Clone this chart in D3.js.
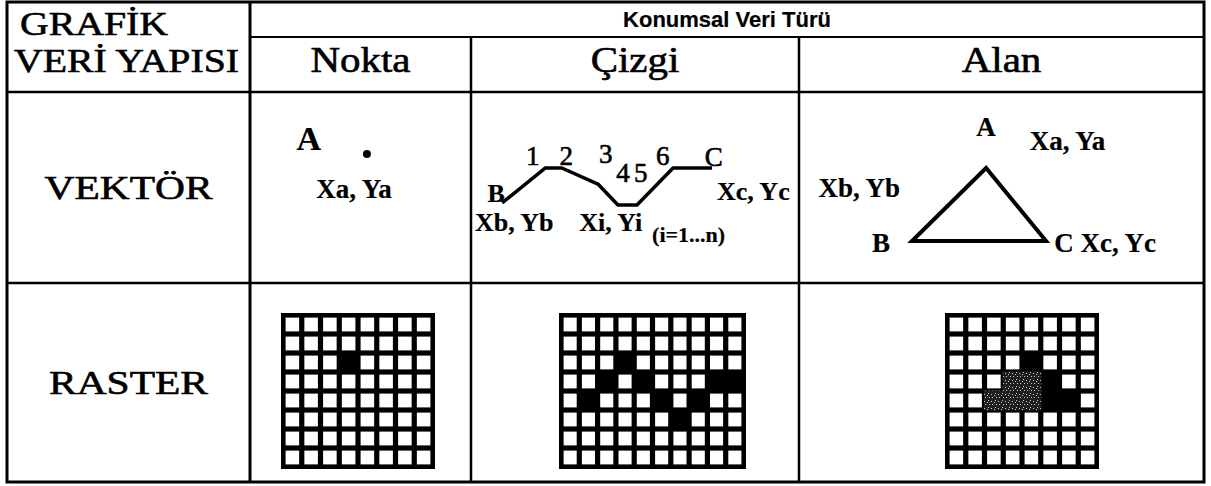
<!DOCTYPE html>
<html><head><meta charset="utf-8">
<script src="https://cdn.jsdelivr.net/npm/d3@7"></script>
<style>body{margin:0;background:#fff}</style>
</head><body><svg id="c" width="1211" height="486"></svg>
<script>
// ---------- data ----------
const cornerLines = ["GRAFİK", "VERİ YAPISI"];
const headerTitle = "Konumsal Veri Türü";
const dataTypes = ["Nokta", "Çizgi", "Alan"];
const structures = ["VEKTÖR", "RASTER"];

// raster grids: [cols, rows] and filled cells [col, row, tone]
const gridNoktaSize = [8, 8];
const gridNoktaCells = [[3, 2, "k"]];
const gridCizgiSize = [10, 8];
const gridCizgiCells = [[1,4,"k"],[2,3,"k"],[3,2,"k"],[4,3,"k"],[5,4,"k"],[6,5,"k"],[7,4,"k"],[8,3,"k"],[9,3,"k"]];
const gridAlanSize = [8, 8];
const gridAlanCells = [[4,2,"k"],[3,3,"g"],[4,3,"g"],[5,3,"k"],[2,4,"g"],[3,4,"g"],[4,4,"g"],[5,4,"k"],[6,4,"k"]];

// vector geometry in cell units (0-100)
const pointXY = [52.9, 32.5];
const lineX = [9.5, 22.6, 27.7, 38.7, 44.8, 50.6, 61.6, 73.5];
const lineY = [58.1, 39.8, 39.8, 48.2, 59.2, 59.2, 39.8, 39.8];
const polyX = [46.2, 27.9, 61.0];
const polyY = [39.8, 78.0, 78.0];

// vector labels [text, x, y, anchor, size, weight]
const noktaLabels = [["A", 21.0, 30.4, "start", 34, "bold"], ["Xa, Ya", 30.0, 55.5, "start", 27, "bold"]];
const cizgiLabels = [
  ["B", 5.0, 57.6, "start", 26, "bold"], ["1", 16.8, 38.2, "start", 27, "normal"], ["2", 27.0, 38.2, "start", 27, "normal"],
  ["3", 39.0, 37.2, "start", 27, "normal"], ["4", 44.3, 47.0, "start", 27, "normal"], ["5", 49.7, 47.0, "start", 27, "normal"],
  ["6", 56.4, 38.2, "start", 27, "normal"], ["C", 71.3, 38.7, "start", 27, "normal"], ["Xc, Yc", 75.0, 56.8, "start", 26, "bold"],
  ["Xb, Yb", 1.2, 73.0, "start", 26, "bold"], ["Xi, Yi", 33.0, 73.0, "start", 26, "bold"], ["(i=1...n)", 55.2, 78.5, "start", 22, "bold"]
];
const alanLabels = [
  ["A", 46.2, 23.0, "middle", 27, "bold"], ["Xa, Ya", 57.0, 30.4, "start", 27, "bold"], ["Xb, Yb", 4.8, 55.0, "start", 27, "bold"],
  ["B", 18.0, 84.0, "start", 27, "bold"], ["C  Xc, Yc", 63.0, 84.0, "start", 27, "bold"]
];

// ---------- layout ----------
const svg = d3.select("#c");
const L = 7, R = 1204, T = 2, B = 482;
const colEdges = [250, 471, 799, R];
const rowEdges = [37, 92, 283, B];
const serif = "'Liberation Serif','Times New Roman',serif";
const sans = "'Liberation Sans',Arial,sans-serif";

// speckle pattern
const defs = svg.append("defs");
const pat = defs.append("pattern").attr("id","speck").attr("width",7).attr("height",7).attr("patternUnits","userSpaceOnUse");
pat.append("rect").attr("width",7).attr("height",7).attr("fill","#1e1e1e");
[[1,1],[4,2],[2,5],[5,5],[0,3]].forEach(p => pat.append("rect").attr("x",p[0]).attr("y",p[1]).attr("width",1).attr("height",1).attr("fill","#ccc"));

// table lines
const g = svg.append("g").attr("stroke","#000").attr("fill","none");
g.append("rect").attr("x",L).attr("y",T).attr("width",R-L).attr("height",B-T).attr("stroke-width",3);
g.append("line").attr("x1",colEdges[0]).attr("x2",colEdges[0]).attr("y1",T).attr("y2",B).attr("stroke-width",3);
[colEdges[1], colEdges[2]].forEach(x => g.append("line").attr("x1",x).attr("x2",x).attr("y1",rowEdges[0]).attr("y2",B).attr("stroke-width",2.5));
g.append("line").attr("x1",colEdges[0]).attr("x2",R).attr("y1",rowEdges[0]).attr("y2",rowEdges[0]).attr("stroke-width",2);
[rowEdges[1], rowEdges[2]].forEach(y => g.append("line").attr("x1",L).attr("x2",R).attr("y1",y).attr("y2",y).attr("stroke-width",2.5));

function stext(txt, x, y, size, opts = {}) {
  const sx = opts.sx || 1;
  return svg.append("text")
    .attr("transform", `translate(${x},${y}) scale(${sx},1)`)
    .attr("text-anchor", opts.anchor || "start")
    .attr("font-family", opts.family || serif)
    .attr("font-size", size)
    .attr("font-weight", opts.weight || "normal")
    .attr("fill", "#000")
    .attr("stroke", "#000")
    .attr("stroke-width", opts.sw == null ? 0.6 : opts.sw)
    .text(txt);
}

// corner
stext(cornerLines[0], 20, 35, 34, {sx: 1.17});
stext(cornerLines[1], 14, 72, 34, {sx: 1.17});
// header
stext(headerTitle, (colEdges[0] + R) / 2, 27, 22, {anchor: "middle", family: sans, weight: "bold", sw: 0.2});
dataTypes.forEach((d, i) => {
  const cx = (colEdges[i] + colEdges[i + 1]) / 2;
  stext(d, cx, 72, 35, {anchor: "middle", sx: 1.17});
});
// row labels
structures.forEach((d, i) => {
  const cy = (rowEdges[i + 1] + rowEdges[i + 2]) / 2;
  stext(d, (L + colEdges[0]) / 2, cy + 11, 34, {anchor: "middle", sx: 1.22});
});

// ---------- vector cells ----------
function cellScales(ci) {
  return [d3.scaleLinear().domain([0, 100]).range([colEdges[ci], colEdges[ci + 1]]),
          d3.scaleLinear().domain([0, 100]).range([rowEdges[1], rowEdges[2]])];
}
function drawLabels(labels, ci) {
  const [sx, sy] = cellScales(ci);
  labels.forEach(l => stext(l[0], sx(l[1]), sy(l[2]), l[4], {anchor: l[3], weight: l[5], sw: l[5] === "bold" ? 0.2 : 0.6}));
}
{
  const [sx, sy] = cellScales(0);
  svg.append("circle").attr("cx", sx(pointXY[0])).attr("cy", sy(pointXY[1])).attr("r", 4).attr("fill", "#000");
  drawLabels(noktaLabels, 0);
}
{
  const [sx, sy] = cellScales(1);
  const line = d3.line().x(d => sx(d[0])).y(d => sy(d[1]));
  svg.append("path").attr("d", line(d3.zip(lineX, lineY))).attr("fill","none").attr("stroke","#000").attr("stroke-width",3.5).attr("stroke-linejoin","round");
  drawLabels(cizgiLabels, 1);
}
{
  const [sx, sy] = cellScales(2);
  const line = d3.line().x(d => sx(d[0])).y(d => sy(d[1])).curve(d3.curveLinearClosed);
  svg.append("path").attr("d", line(d3.zip(polyX, polyY))).attr("fill","none").attr("stroke","#000").attr("stroke-width",4).attr("stroke-linejoin","miter");
  drawLabels(alanLabels, 2);
}

// ---------- raster cells ----------
function drawGrid(box, size, cells) {
  const [x0, y0, x1, y1] = box;
  const xs = d3.scaleLinear().domain([0, size[0]]).range([x0, x1]);
  const ys = d3.scaleLinear().domain([0, size[1]]).range([y0, y1]);
  const gg = svg.append("g");
  gg.append("rect").attr("x", x0 - 2).attr("y", y0 - 2).attr("width", x1 - x0 + 4).attr("height", y1 - y0 + 4).attr("fill", "#000");
  const filled = new Map(cells.map(c => [c[0] + "," + c[1], c[2]]));
  const all = d3.cross(d3.range(size[0]), d3.range(size[1]));
  const inset = 2.6;
  all.forEach(([i, j]) => {
    const t = filled.get(i + "," + j);
    if (t === "k") return;
    if (t === "g") {
      gg.append("rect").attr("x", xs(i) - 0.5).attr("y", ys(j) - 0.5).attr("width", xs(i + 1) - xs(i) + 1).attr("height", ys(j + 1) - ys(j) + 1).attr("fill", "url(#speck)");
      return;
    }
    gg.append("rect").attr("x", xs(i) + inset).attr("y", ys(j) + inset)
      .attr("width", xs(i + 1) - xs(i) - 2 * inset).attr("height", ys(j + 1) - ys(j) - 2 * inset).attr("fill", "#fff");
  });
}
drawGrid([283, 315, 433, 467], gridNoktaSize, gridNoktaCells);
drawGrid([561, 315, 744, 467], gridCizgiSize, gridCizgiCells);
drawGrid([947, 315, 1097, 467], gridAlanSize, gridAlanCells);
</script></body></html>
